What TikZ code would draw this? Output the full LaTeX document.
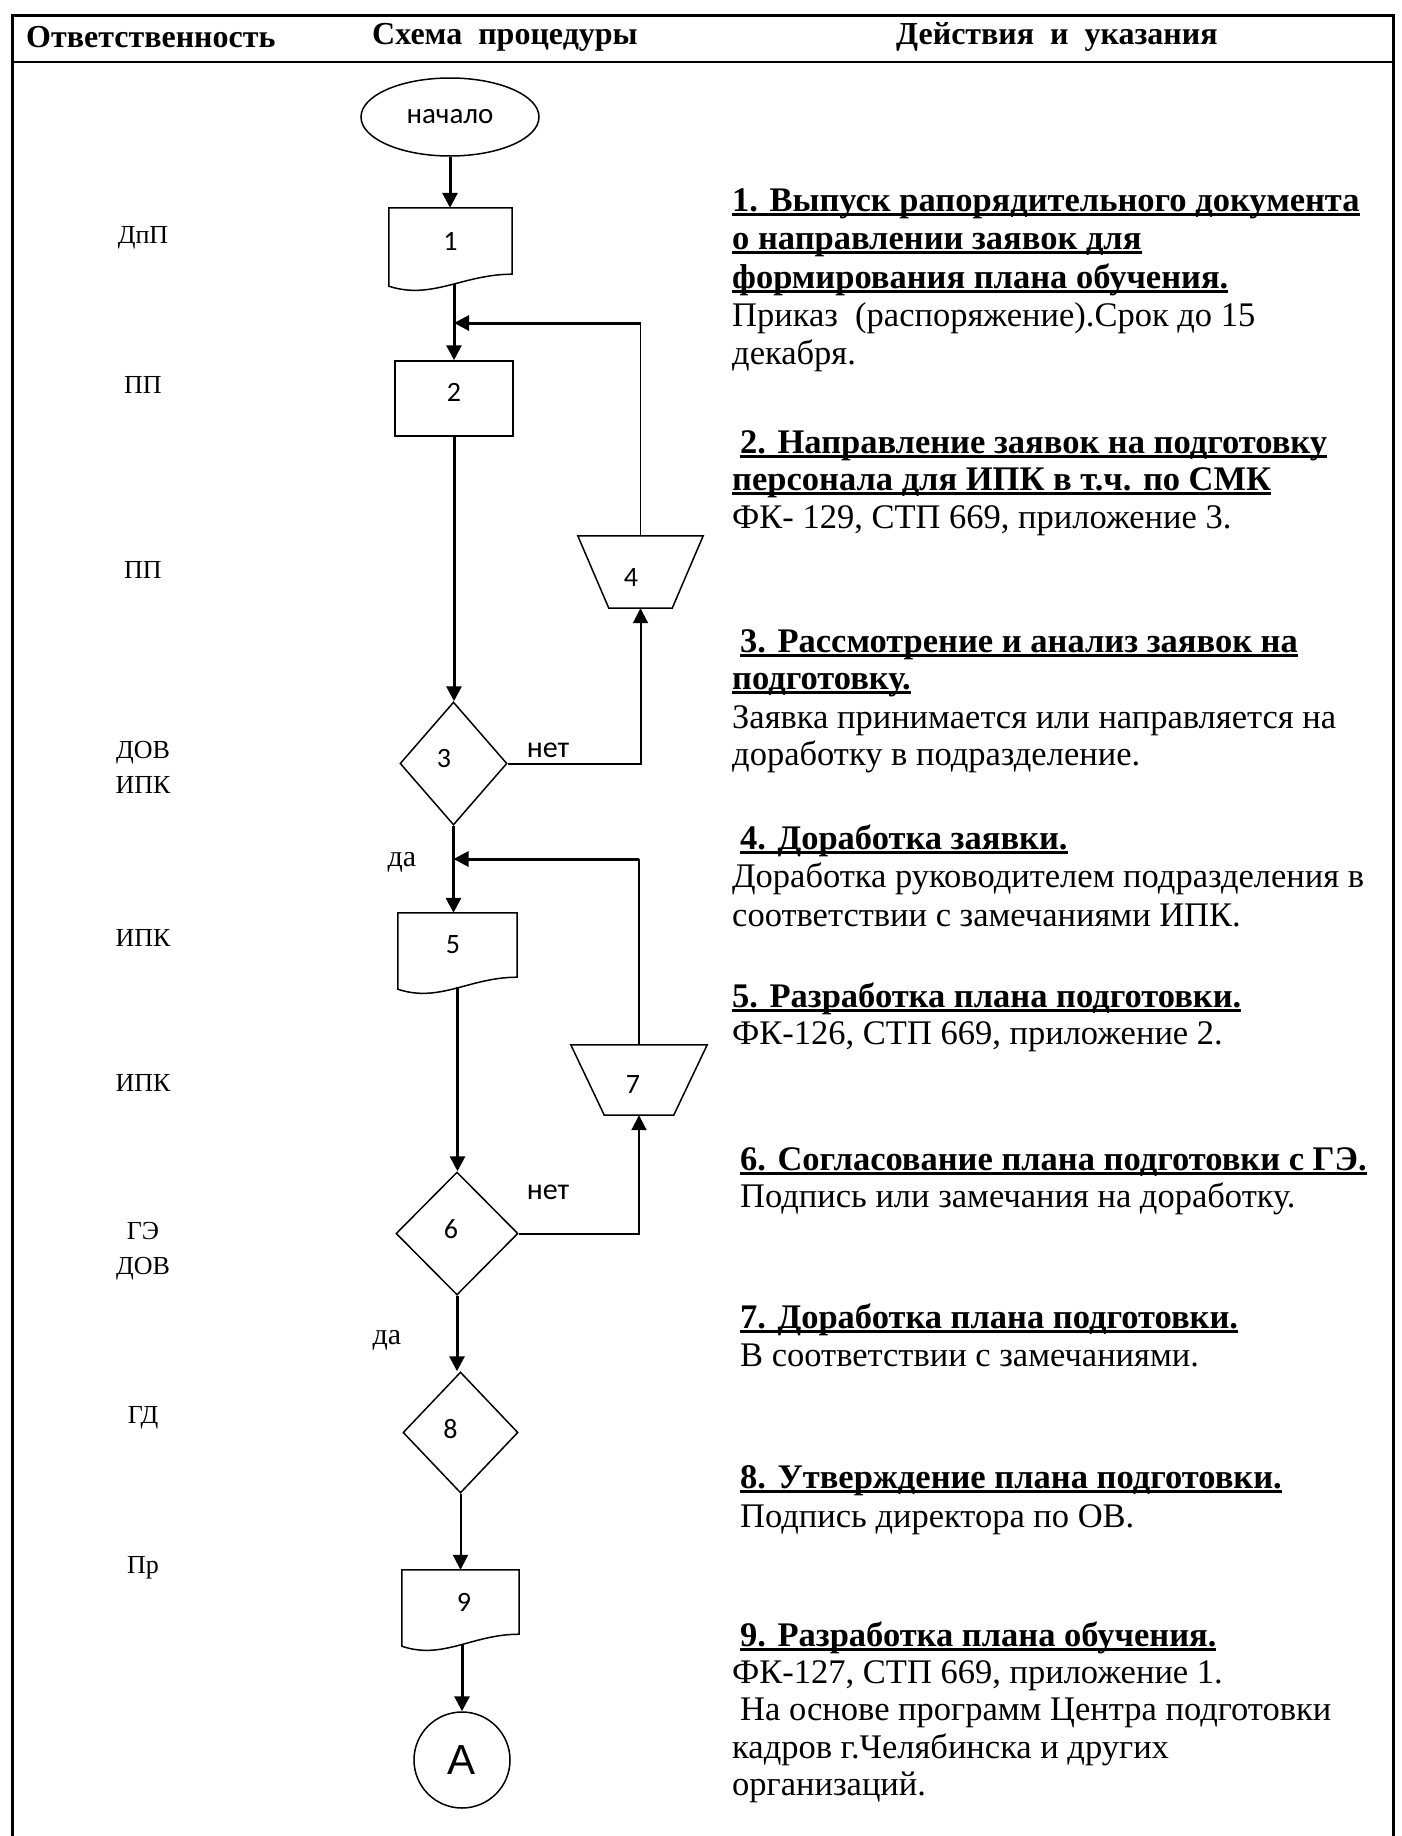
\documentclass[tikz,border=0pt]{standalone}
\usepackage{fontspec}
\setmainfont{Liberation Serif}
\newfontfamily\carl{Carlito}
\newfontfamily\arialf{Liberation Sans}
\usetikzlibrary{shapes.geometric,arrows.meta,calc}
\newcommand\ulx[1]{\setbox0\hbox{#1}\rlap{\rule[-0.15em]{\wd0}{0.08em}}\box0}
\newcommand\docout[1]{\draw[shp] ($(#1.south west)+(0,12)$) -- (#1.north west) -- (#1.north east) -- (#1.south east) .. controls ($(#1.south west)!0.6!(#1.south east)$) and ($(#1.south west)!0.35!(#1.south east)+(0,26)$) .. ($(#1.south west)+(0,12)$) -- cycle;}
\newcommand\trapout[2]{\draw[shp] (#1.north west) -- (#1.north east) -- ($(#1.south east)+(-#2,0)$) -- ($(#1.south west)+(#2,0)$) -- cycle;}
\begin{document}
\begin{tikzpicture}[x=1pt,y=-1pt,
  frame/.style={line width=3pt},
  arr/.style={line width=3pt,-{Triangle[length=15pt,width=15pt]}},
  marr/.style={line width=2pt,-{Triangle[length=15pt,width=15pt]}},
  thinl/.style={line width=1.3pt},
  shp/.style={line width=1.5pt},
  plain/.style={inner sep=0pt, font=\carl\fontsize{28}{30}\selectfont},
  box/.style={plain, draw, line width=1.5pt},
  dia/.style={plain, draw, line width=1.5pt, diamond, aspect=1},
  dig/.style={label={[plain, xshift=#1]center:}},
  hdr/.style={anchor=west, inner sep=0pt, font=\bfseries\fontsize{32}{36}\selectfont},
  resp/.style={inner sep=0pt, align=center, font=\fontsize{26}{35}\selectfont},
  txt/.style={anchor=base west, inner sep=0pt, font=\fontsize{34.5}{38}\selectfont},
  hd/.style={txt, font=\bfseries\fontsize{34.5}{38}\selectfont},
  lab/.style={inner sep=0pt, font=\carl\fontsize{30}{32}\selectfont},
  labs/.style={inner sep=0pt, font=\fontsize{30}{32}\selectfont},
]
\useasboundingbox (0,0) rectangle (1402,1836);
% frame
\coordinate (tl) at (12,16);
\coordinate (tr) at (1393,16);
\coordinate (bl) at (12,1836);
\coordinate (br) at (1393,1836);
\draw[frame] (bl) -- (tl) -- (tr) -- (br);
\draw[line width=2pt] (12,62) -- (1393,62);
% header
\node[hdr] (h1) at (26,37) {Ответственность};
\node[hdr] (h2) at (372,37) {Схема\ \ процедуры};
\node[hdr] (h3) at (896,37) {Действия\ \ и\ \ указания};
% responsibility column
\node[resp] (p1) at (143,238) {ДпП};
\node[resp] (p2) at (143,385) {ПП};
\node[resp] (p3) at (143,570) {ПП};
\node[resp] (p4) at (143,767) {ДОВ\\ИПК};
\node[resp] (p5) at (143,938) {ИПК};
\node[resp] (p6) at (143,1083) {ИПК};
\node[resp] (p7) at (143,1251) {ГЭ\\ДОВ};
\node[resp] (p8) at (143,1418) {ГД};
\node[resp] (p9) at (143,1568) {Пр};
% flowchart nodes
\node[plain, draw, line width=1.5pt, ellipse, minimum width=178, minimum height=78, font=\carl\fontsize{29}{30}\selectfont] (start) at (450,117) {начало};
\node[plain, minimum width=123, minimum height=66] (d1) at (450.5,241) {1};
\docout{d1}
\node[box, minimum width=118, minimum height=75, label={[plain, yshift=6pt]center:2}] (d2) at (454,398.5) {};
\node[dia, minimum width=107, minimum height=123, label={[plain, xshift=-9.5pt, yshift=4.5pt]center:3}] (dia3) at (453.5,763.5) {};
\node[plain, minimum width=125, minimum height=72, label={[plain, xshift=-9.5pt, yshift=-5.5pt]center:4}] (t4) at (640.5,572) {};
\trapout{t4}{31}
\node[plain, minimum width=119, minimum height=64, label={[plain, xshift=-4.5pt]center:5}] (d5) at (457.5,945) {};
\docout{d5}
\node[dia, minimum width=122, minimum height=123, label={[plain, xshift=-6pt, yshift=4.5pt]center:6}] (dia6) at (457,1233.5) {};
\node[plain, minimum width=136, minimum height=70, label={[plain, xshift=-6pt, yshift=-5pt]center:7}] (t7) at (639,1080) {};
\trapout{t7}{33.5}
\node[dia, minimum width=115, minimum height=121, label={[plain, xshift=-10pt, yshift=3.5pt]center:8}] (dia8) at (460.5,1432.5) {};
\node[plain, minimum width=117, minimum height=64, label={[plain, xshift=3.5pt]center:9}] (d9) at (460.5,1602) {};
\docout{d9}
\node[draw, line width=1.5pt, circle, minimum size=96, inner sep=0pt, font=\arialf\fontsize{42}{44}\selectfont] (cA) at (462,1760) {A};
% labels
\node[lab] (n1) at (548,750) {нет};
\node[lab] (n2) at (548,1192) {нет};
\node[labs] (y1) at (402,862) {да};
\node[labs] (y2) at (387,1340) {да};
% connectors
\coordinate (j1) at (454,323);
\coordinate (j2) at (453.5,859);
\draw[arr] (start.south) -- (start.south |- d1.north);
\draw[arr] ($(d1.south -| d2.north)+(0,10)$) -- (d2.north);
\draw[thinl] (t4.north) -- (t4.north |- j1);
\draw[arr] (t4.north |- j1) -- (j1);
\draw[arr] (d2.south) -- (d2.south |- dia3.north);
\draw[marr] (dia3.east) -| (t4.south);
\draw[arr] (dia3.south) -- (dia3.south |- d5.north);
\draw[thinl] (t7.north) -- (t7.north |- j2);
\draw[arr] (t7.north |- j2) -- (j2);
\draw[arr] ($(d5.south)+(0,10)$) -- (d5.south |- dia6.north);
\draw[marr] (dia6.east) -| (t7.south);
\draw[arr] (dia6.south) -- (dia6.south |- dia8.north);
\draw[marr] (dia8.south) -- (dia8.south |- d9.north);
\draw[arr] ($(d9.south -| cA.north)+(0,10)$) -- (cA.north);
% actions column
\node[hd] (r1a) at (732,211) {\ulx{1. Выпуск рапорядительного документа}};
\node[hd] (r1b) at (732,249) {\ulx{о направлении заявок для}};
\node[hd] (r1c) at (732,288) {\ulx{формирования плана обучения.}};
\node[txt] (r1d) at (732,326) {Приказ\ \ (распоряжение).Срок до 15};
\node[txt] (r1e) at (732,364) {декабря.};
\node[hd] (r2a) at (740,453) {\ulx{2. Направление заявок на подготовку}};
\node[hd] (r2b) at (732,490) {\ulx{персонала для ИПК в т.ч. по СМК}};
\node[txt] (r2c) at (732,528) {ФК- 129, СТП 669, приложение 3.};
\node[hd] (r3a) at (740,652) {\ulx{3. Рассмотрение и анализ заявок на}};
\node[hd] (r3b) at (732,689) {\ulx{подготовку.}};
\node[txt] (r3c) at (732,728) {Заявка принимается или направляется на};
\node[txt] (r3d) at (732,765) {доработку в подразделение.};
\node[hd] (r4a) at (740,849) {\ulx{4. Доработка заявки.}};
\node[txt] (r4b) at (732,887) {Доработка руководителем подразделения в};
\node[txt] (r4c) at (732,926) {соответствии с замечаниями ИПК.};
\node[hd] (r5a) at (732,1007) {\ulx{5. Разработка плана подготовки.}};
\node[txt] (r5b) at (732,1044) {ФК-126, СТП 669, приложение 2.};
\node[hd] (r6a) at (740,1170) {\ulx{6. Согласование плана подготовки с ГЭ.}};
\node[txt] (r6b) at (740,1207) {Подпись или замечания на доработку.};
\node[hd] (r7a) at (740,1328) {\ulx{7. Доработка плана подготовки.}};
\node[txt] (r7b) at (740,1366) {В соответствии с замечаниями.};
\node[hd] (r8a) at (740,1488) {\ulx{8. Утверждение плана подготовки.}};
\node[txt] (r8b) at (740,1527) {Подпись директора по ОВ.};
\node[hd] (r9a) at (740,1646) {\ulx{9. Разработка плана обучения.}};
\node[txt] (r9b) at (732,1683) {ФК-127, СТП 669, приложение 1.};
\node[txt] (r9c) at (740,1720) {На основе программ Центра подготовки};
\node[txt] (r9d) at (732,1758) {кадров г.Челябинска и других};
\node[txt] (r9e) at (732,1795) {организаций.};
\end{tikzpicture}
\end{document}
